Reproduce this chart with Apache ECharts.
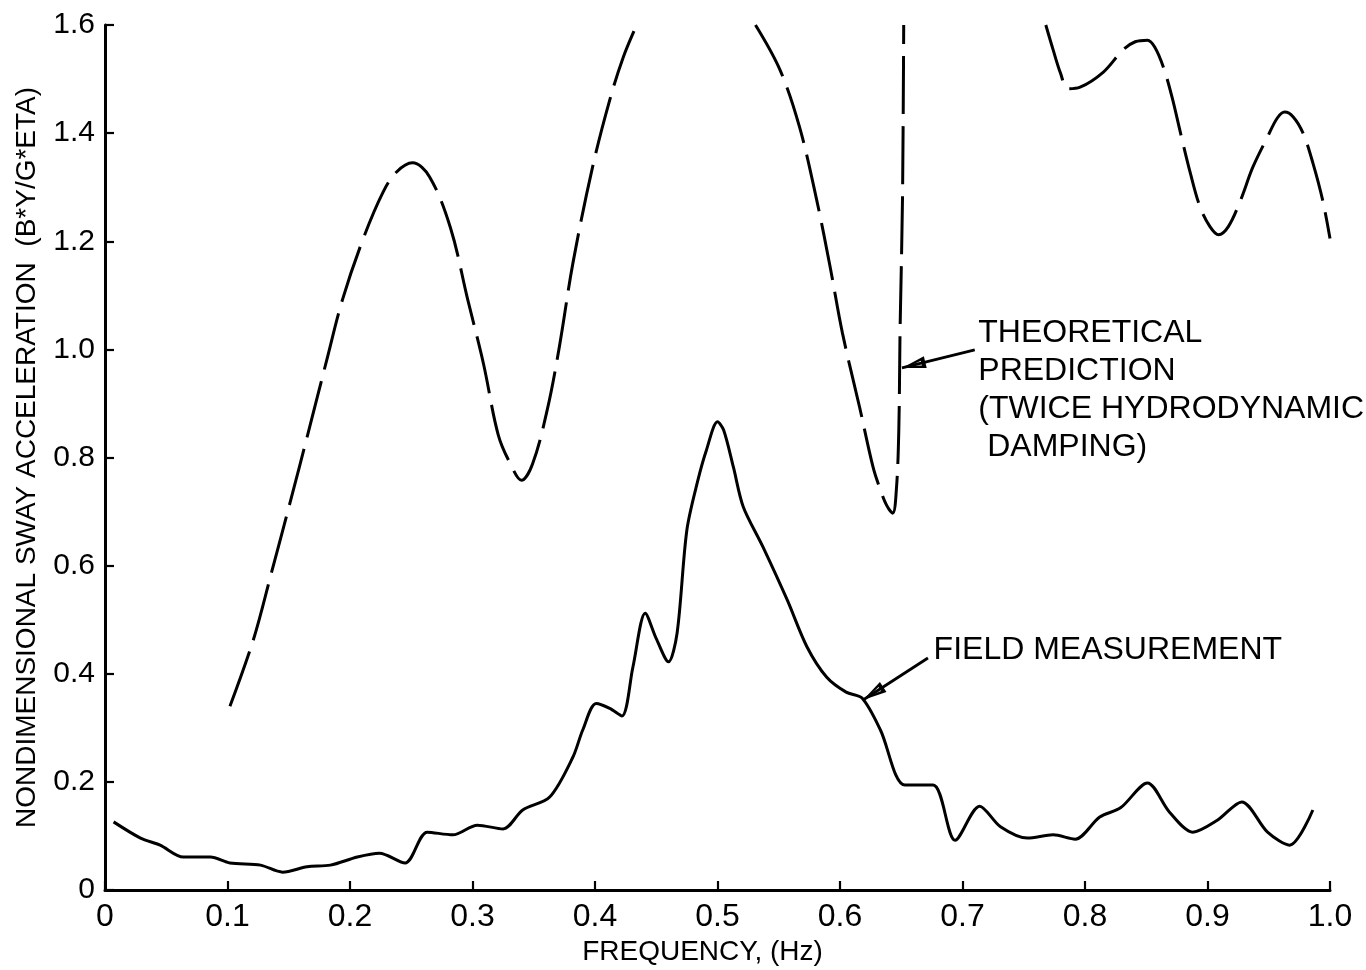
<!DOCTYPE html>
<html>
<head>
<meta charset="utf-8">
<script src="https://cdn.jsdelivr.net/npm/echarts@6/dist/echarts.min.js"></script>
<style>
html,body{margin:0;padding:0;background:#fff}
#chart{width:1366px;height:970px}
</style>
</head>
<body>
<div id="chart"></div>
<script>
// ---- data ----
const xTickLabels = ['0', '0.1', '0.2', '0.3', '0.4', '0.5', '0.6', '0.7', '0.8', '0.9', '1.0'];
const yTickLabels = ['0', '0.2', '0.4', '0.6', '0.8', '1.0', '1.2', '1.4', '1.6'];

const fieldFreq = [0.007, 0.029, 0.045, 0.064, 0.086, 0.102, 0.127, 0.145, 0.165, 0.184,
  0.206, 0.224, 0.245, 0.263, 0.284, 0.304, 0.325, 0.341, 0.363, 0.382,
  0.390, 0.401, 0.412, 0.422, 0.431, 0.441, 0.450, 0.460, 0.467, 0.475,
  0.484, 0.491, 0.500, 0.505, 0.513, 0.521, 0.537, 0.557, 0.573, 0.589,
  0.605, 0.618, 0.633, 0.653, 0.676, 0.694, 0.714, 0.731, 0.753, 0.774,
  0.792, 0.812, 0.829, 0.851, 0.869, 0.888, 0.908, 0.928, 0.949, 0.967, 0.986];
const fieldAmp = [0.126, 0.096, 0.083, 0.061, 0.061, 0.050, 0.046, 0.033, 0.043, 0.046,
  0.061, 0.068, 0.050, 0.107, 0.102, 0.120, 0.113, 0.148, 0.172, 0.246,
  0.296, 0.345, 0.336, 0.322, 0.413, 0.512, 0.465, 0.422, 0.475, 0.666,
  0.758, 0.814, 0.866, 0.851, 0.782, 0.709, 0.635, 0.536, 0.450, 0.394,
  0.366, 0.355, 0.296, 0.194, 0.194, 0.092, 0.155, 0.117, 0.096, 0.102,
  0.094, 0.135, 0.152, 0.198, 0.144, 0.107, 0.129, 0.163, 0.107, 0.083, 0.148];

// null = curve leaves the plotted range (goes above 1.6)
const theoryFreq = [0.102, 0.121, 0.136, 0.151, 0.166, 0.181, 0.194, 0.211, 0.227, 0.238,
  0.251, 0.265, 0.282, 0.296, 0.309, 0.321, 0.331, 0.340, 0.349, 0.361,
  0.371, 0.382, 0.398, 0.412, 0.423, 0.434,
  0.480,
  0.531, 0.551, 0.567, 0.581, 0.592, 0.602, 0.616, 0.627, 0.633, 0.638,
  0.643, 0.646, 0.648, 0.649, 0.651, 0.652,
  0.700,
  0.768, 0.774, 0.780, 0.786, 0.796, 0.815, 0.831, 0.841, 0.851, 0.857,
  0.864, 0.871, 0.878, 0.886, 0.894, 0.902, 0.909, 0.917, 0.927, 0.937,
  0.949, 0.957, 0.963, 0.970, 0.978, 0.986, 0.994, 1.000];
const theoryAmp = [0.340, 0.462, 0.588, 0.716, 0.847, 0.980, 1.093, 1.206, 1.291, 1.328,
  1.345, 1.319, 1.225, 1.093, 0.973, 0.842, 0.788, 0.758, 0.788, 0.888,
  1.006, 1.160, 1.337, 1.461, 1.540, 1.600,
  null,
  1.600, 1.517, 1.411, 1.276, 1.152, 1.030, 0.893, 0.782, 0.740, 0.712,
  0.697, 0.740, 0.850, 1.030, 1.276, 1.600,
  null,
  1.600, 1.554, 1.511, 1.482, 1.485, 1.513, 1.554, 1.569, 1.572, 1.559,
  1.522, 1.467, 1.400, 1.326, 1.263, 1.227, 1.212, 1.227, 1.276, 1.337,
  1.393, 1.428, 1.439, 1.430, 1.400, 1.345, 1.276, 1.205];

// ---- annotation anchors (data coordinates) ----
const theoryNoteAt = [0.7125, 0.925];
const fieldNoteAt = [0.676, 0.444];
const theoryArrow = [[0.710, 0.999], [0.6506, 0.9656]];
const fieldArrow = [[0.6718, 0.4292], [0.6188, 0.3515]];

// ---- styling ----
const FONT = "'Liberation Sans', Arial, sans-serif";
const INK = '#000';
// hollow triangular arrow head, tip at the symbol centre
const ARROW_HEAD = 'path://M0,0 L6,24 L-6,24 Z M0,8 L-2.4,20 L2.4,20 Z M-30,-30 M30,30';

function pairs(xs, ys) {
  return xs.map((x, i) => [x, ys[i] === null ? '-' : ys[i]]);
}

const chart = echarts.init(document.getElementById('chart'), null, {renderer: 'canvas'});

const noteLabel = (text) => ({
  show: true, position: 'right', distance: 0,
  formatter: text, color: INK, fontFamily: FONT, fontSize: 32,
  lineHeight: 38, align: 'left'
});

const arrowLine = (seg) => ({
  silent: true,
  animation: false,
  symbol: ['none', ARROW_HEAD],
  symbolSize: 60,
  label: {show: false},
  lineStyle: {color: INK, width: 2.8, type: 'solid'},
  emphasis: {disabled: true},
  data: [[{coord: seg[0]}, {coord: seg[1]}]]
});

const option = {
  animation: false,
  backgroundColor: '#fff',
  grid: {left: 105, right: 36, top: 25, bottom: 80, containLabel: false, outerBoundsMode: 'none'},
  xAxis: {
    type: 'value', min: 0, max: 1, interval: 0.1,
    axisLine: {show: true, onZero: false, lineStyle: {color: INK, width: 3}},
    axisTick: {show: true, inside: true, length: 9, lineStyle: {color: INK, width: 2.2}},
    axisLabel: {
      show: true, margin: 11, fontSize: 32, color: INK, fontFamily: FONT,
      formatter: (v) => xTickLabels[Math.round(v * 10)]
    },
    splitLine: {show: false},
    name: 'FREQUENCY, (Hz)', nameLocation: 'middle', nameGap: 47,
    nameTextStyle: {fontSize: 28, color: INK, fontFamily: FONT, padding: [0, 30, 0, 0]}
  },
  yAxis: {
    type: 'value', min: 0, max: 1.6, interval: 0.2,
    axisLine: {show: true, onZero: false, lineStyle: {color: INK, width: 3}},
    axisTick: {show: true, inside: true, length: 9, lineStyle: {color: INK, width: 2.2}},
    axisLabel: {
      show: true, margin: 10, fontSize: 30, color: INK, fontFamily: FONT,
      formatter: (v) => yTickLabels[Math.round(v / 0.2)]
    },
    splitLine: {show: false},
    name: 'NONDIMENSIONAL SWAY ACCELERATION  (B*Y/G*ETA)',
    nameLocation: 'middle', nameRotate: 90, nameGap: 64,
    nameTextStyle: {fontSize: 28, color: INK, fontFamily: FONT}
  },
  series: [
    {
      name: 'THEORETICAL PREDICTION',
      type: 'line',
      data: pairs(theoryFreq, theoryAmp),
      showSymbol: false, symbol: 'none',
      connectNulls: false,
      smooth: 0.35,
      clip: true,
      lineStyle: {color: INK, width: 3, type: [58, 12]},
      emphasis: {disabled: true},
      markLine: arrowLine(theoryArrow),
      markPoint: {
        silent: true, symbol: 'circle', symbolSize: 1,
        itemStyle: {color: 'rgba(0,0,0,0)'},
        label: noteLabel('THEORETICAL\nPREDICTION\n(TWICE HYDRODYNAMIC\n DAMPING)'),
        data: [{coord: theoryNoteAt}]
      }
    },
    {
      name: 'FIELD MEASUREMENT',
      type: 'line',
      data: pairs(fieldFreq, fieldAmp),
      showSymbol: false, symbol: 'none',
      smooth: 0.3,
      clip: true,
      lineStyle: {color: INK, width: 3, type: 'solid'},
      emphasis: {disabled: true},
      markLine: arrowLine(fieldArrow),
      markPoint: {
        silent: true, symbol: 'circle', symbolSize: 1,
        itemStyle: {color: 'rgba(0,0,0,0)'},
        label: noteLabel('FIELD MEASUREMENT'),
        data: [{coord: fieldNoteAt}]
      }
    }
  ]
};

chart.setOption(option);
</script>
</body>
</html>
